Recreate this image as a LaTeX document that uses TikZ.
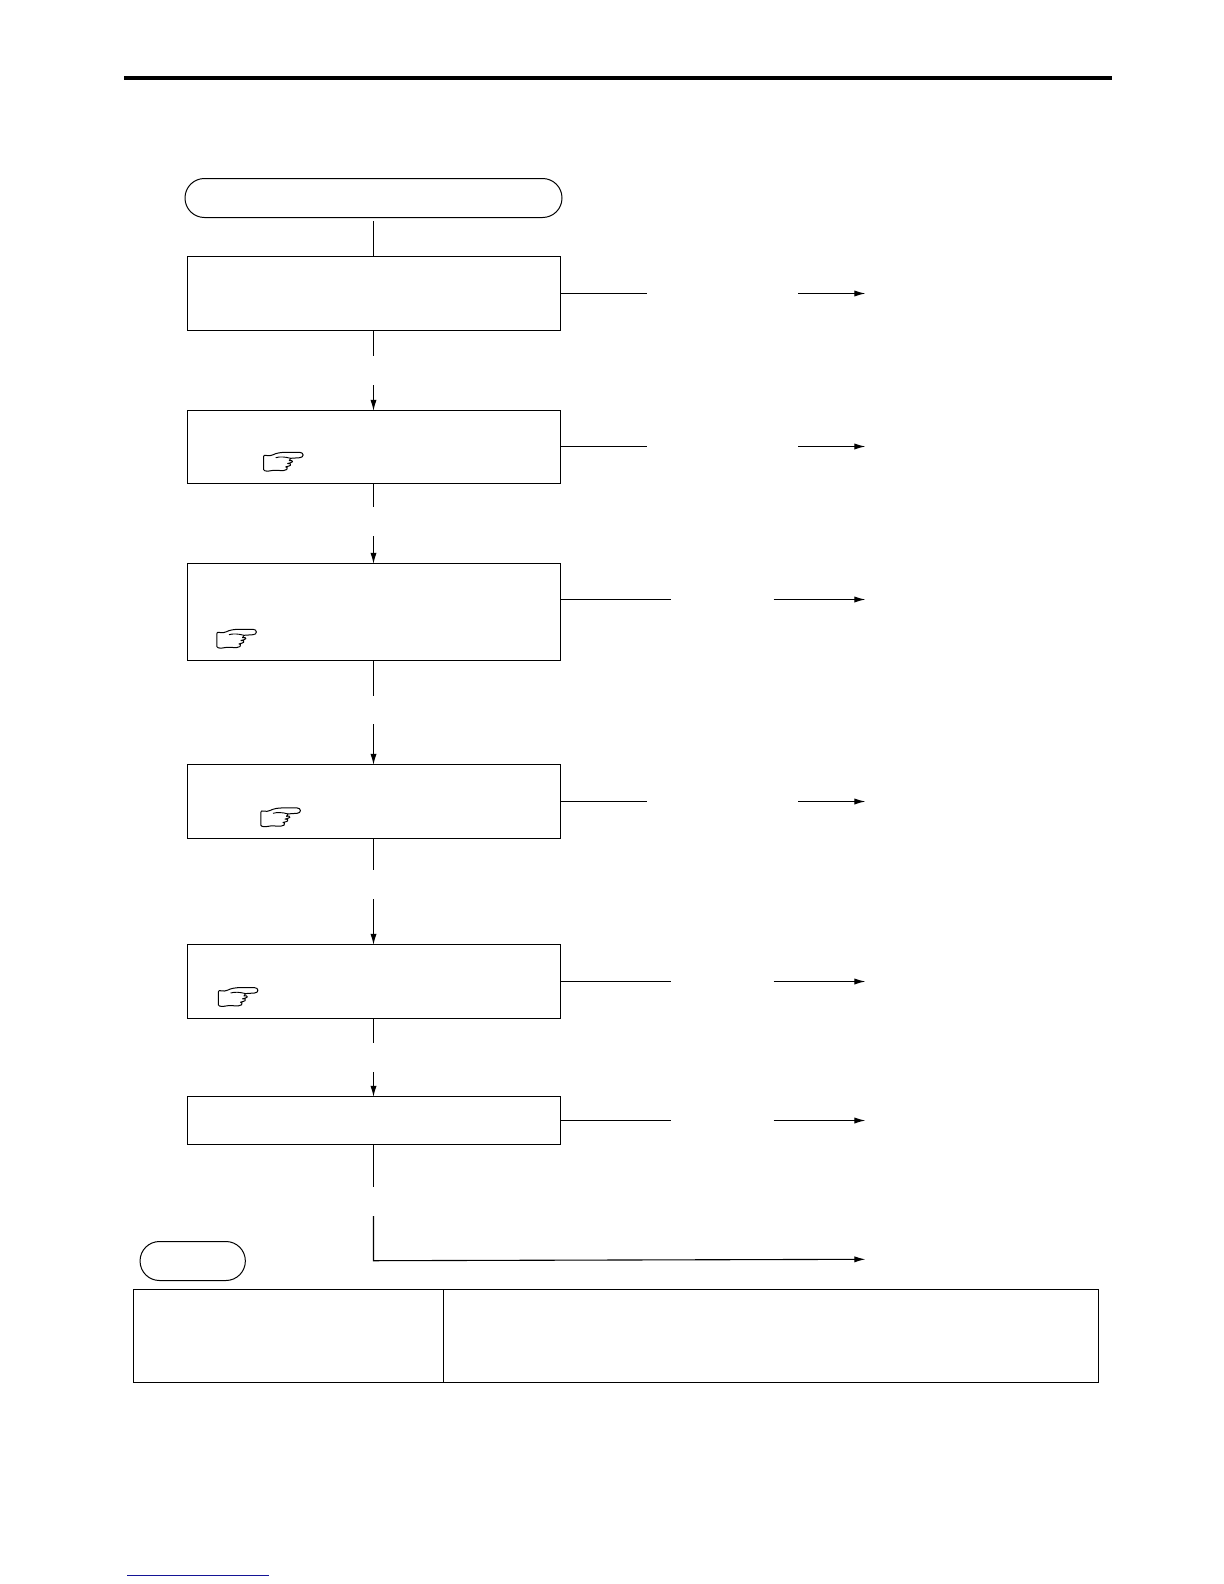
\documentclass[tikz,border=0pt]{standalone}
\usetikzlibrary{arrows.meta,calc}
\definecolor{linkblue}{RGB}{20,20,150}
\tikzset{
  x=0.5pt,y=-0.5pt,
  ink/.style={line width=0.55pt,black},
  flowbox/.style={ink,draw,rectangle,inner sep=0pt,outer sep=0pt,minimum width=186.5pt},
  pillbox/.style={line width=0.5pt,draw,rectangle,rounded corners=9.7pt,inner sep=0pt,outer sep=0pt},
  cellbox/.style={ink,draw,rectangle,inner sep=0pt,outer sep=0pt},
  plainline/.style={ink},
  flowarrow/.style={ink,shorten >=-0.2pt,-{Latex[length=5.5pt,width=3.1pt]}},
  pics/pointhand/.style={code={
    \draw[line width=0.5pt,line join=round,fill=white]
      (1,4.5) .. controls (1,3.5) and (2,3.5) .. (4,3.8)
      .. controls (6,4.2) and (8,4.2) .. (10,3.2)
      .. controls (14,1.2) and (18,0.6) .. (24,0.6)
      -- (37,0.6) .. controls (41.5,0.6) and (41.5,6) .. (37,6)
      -- (28,6.6) -- (26.5,9)
      -- (29,8.8) .. controls (30.5,9) and (30,11) .. (28,11)
      -- (25,11.8) -- (27.5,12)
      .. controls (28.5,13) and (27.5,14.5) .. (26,14.4)
      -- (23,15.2) -- (24.5,15.8)
      .. controls (25,17.5) and (24,18.5) .. (21,18.8)
      .. controls (17,19.2) and (14,18.2) .. (11,18.6)
      .. controls (8,19.2) and (4,19.8) .. (2,19)
      .. controls (0.5,18.5) and (0.8,17.5) .. (0.8,16)
      -- cycle;
    \draw[line width=0.45pt] (13,6) .. controls (17,4.8) and (22,5) .. (28,6.6);
  }}
}
\begin{document}
\begin{tikzpicture}
\useasboundingbox (0,0) rectangle (1224,1584);

% top rule
\fill[black] (124,76) rectangle (1112,80);

% start terminator
\node[pillbox,minimum width=188.5pt,minimum height=19.5pt] (start) at (373.5,198) {};
\coordinate (startout) at (373.5,221);

% boxes
\node[flowbox,minimum height=37pt]    (b1) at (374,293.5) {};
\node[flowbox,minimum height=36.5pt]  (b2) at (374,447) {};
\node[flowbox,minimum height=48.5pt]  (b3) at (374,612) {};
\node[flowbox,minimum height=37pt]    (b4) at (374,801.5) {};
\node[flowbox,minimum height=37pt]    (b5) at (374,981.5) {};
\node[flowbox,minimum height=24pt]    (b6) at (374,1120.5) {};

% vertical connectors (broken where the text once stood)
\draw[plainline] (startout) -- (startout |- b1.north);
\coordinate (d1a) at (373.5,356);   \coordinate (d1b) at (373.5,385);
\coordinate (d2a) at (373.5,507);   \coordinate (d2b) at (373.5,536.3);
\coordinate (d3a) at (373.5,696);   \coordinate (d3b) at (373.5,724);
\coordinate (d4a) at (373.5,870);   \coordinate (d4b) at (373.5,899);
\coordinate (d5a) at (373.5,1042.7);\coordinate (d5b) at (373.5,1072);
\coordinate (d6a) at (373.5,1186.7);\coordinate (d6b) at (373.5,1216);
\draw[plainline] (d1a |- b1.south) -- (d1a);
\draw[flowarrow] (d1b) -- (d1b |- b2.north);
\draw[plainline] (d2a |- b2.south) -- (d2a);
\draw[flowarrow] (d2b) -- (d2b |- b3.north);
\draw[plainline] (d3a |- b3.south) -- (d3a);
\draw[flowarrow] (d3b) -- (d3b |- b4.north);
\draw[plainline] (d4a |- b4.south) -- (d4a);
\draw[flowarrow] (d4b) -- (d4b |- b5.north);
\draw[plainline] (d5a |- b5.south) -- (d5a);
\draw[flowarrow] (d5b) -- (d5b |- b6.north);
\draw[plainline] (d6a |- b6.south) -- (d6a);

% right-hand branches
\coordinate (r1a) at (646.5,293.5);  \coordinate (r1b) at (798,293.5);  \coordinate (r1c) at (865,293.5);
\coordinate (r2a) at (646.5,446.5);  \coordinate (r2b) at (798,446.5);  \coordinate (r2c) at (865,446.5);
\coordinate (r3a) at (670.6,599.5);  \coordinate (r3b) at (773.6,599.5); \coordinate (r3c) at (865,599.5);
\coordinate (r4a) at (646.5,801.5);  \coordinate (r4b) at (798,801.5);  \coordinate (r4c) at (865,801.5);
\coordinate (r5a) at (670.6,981.5);  \coordinate (r5b) at (773.6,981.5); \coordinate (r5c) at (865,981.5);
\coordinate (r6a) at (670.6,1120.5); \coordinate (r6b) at (773.6,1120.5);\coordinate (r6c) at (865,1120.5);
\foreach \n in {1,...,6}{
  \draw[plainline] (b\n.east |- r\n a) -- (r\n a);
  \draw[flowarrow] (r\n b) -- (r\n c);
}

% final branch
\coordinate (endcorner) at (373.5,1260.7);
\coordinate (endtip) at (865,1259.3);
\draw[flowarrow] (d6b) -- (endcorner) -- (endtip);

% pointing hands
\pic at (262.7,451.7) {pointhand};
\pic at (216,628.7) {pointhand};
\pic at (260,807.3) {pointhand};
\pic at (217.5,987) {pointhand};

% note pill
\node[pillbox,minimum width=52.65pt,minimum height=19.5pt] (note) at (192.7,1261) {};

% table
\node[cellbox,anchor=north west,minimum width=155pt,minimum height=46.5pt] (tl) at (133.5,1289.5) {};
\node[cellbox,anchor=north west,minimum width=327.5pt,minimum height=46.5pt] (tr) at (443.5,1289.5) {};

% bottom link rule
\draw[linkblue,line width=0.5pt] (127.3,1575.5) -- (269,1575.5);
\end{tikzpicture}
\end{document}
